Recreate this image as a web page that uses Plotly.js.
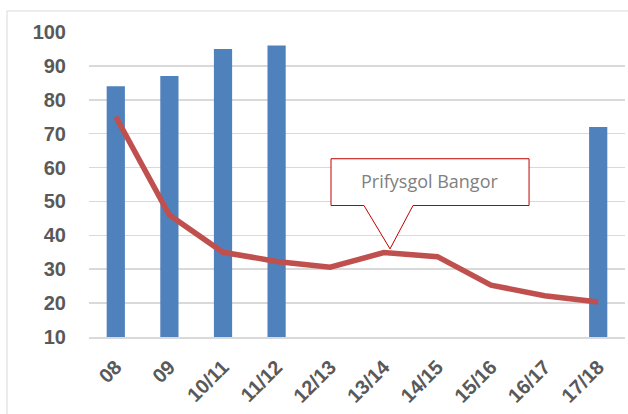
<!DOCTYPE html>
<html>
<head>
<meta charset="utf-8">
<script src="https://cdn.plot.ly/plotly-3.0.1.min.js"></script>
<style>html,body{margin:0;padding:0;background:#fff;}#chart{width:628px;height:414px;}</style>
</head>
<body>
<div id="chart"></div>
<script>
var categories = ["08","09","10/11","11/12","12/13","13/14","14/15","15/16","16/17","17/18"];
var barValues = [84, 87, 95, 96, null, null, null, null, null, 72];
var lineValues = [75, 46, 35, 32.3, 30.6, 34.9, 33.7, 25.3, 22.2, 20.3];
var yTickValues = [10,20,30,40,50,60,70,80,90,100];
var calloutText = "Prifysgol Bangor";

var traces = [
  {type:"bar", x:categories, y:barValues, marker:{color:"#4F81BD"}, hoverinfo:"skip"},
  {type:"scatter", mode:"lines", x:categories, y:lineValues, line:{color:"#C0504D", width:5.5}, hoverinfo:"skip"}
];

var grey = "#595959";
var layout = {
  width:628, height:414,
  margin:{l:89, r:3, t:32, b:77},
  paper_bgcolor:"#fff", plot_bgcolor:"#fff",
  showlegend:false,
  bargap:0.66,
  font:{family:"Liberation Sans, Arial, sans-serif", color:grey},
  xaxis:{type:"category", tickangle:-45, showgrid:false, showline:true, linecolor:"#D9D9D9", linewidth:1.5,
         ticks:"", ticklabelstandoff:9,
         tickfont:{size:20, color:grey, family:"Liberation Sans, Arial, sans-serif", weight:"bold"}},
  yaxis:{range:[10,100], tickvals:yTickValues, showgrid:true, gridcolor:"#D9D9D9", gridwidth:1.5,
         zeroline:false, showline:false, ticks:"", ticklabelstandoff:22,
         tickfont:{size:20, color:grey, family:"Liberation Sans, Arial, sans-serif", weight:"bold"}},
  shapes:[
    {type:"rect", xref:"paper", yref:"paper", x0:-0.153, x1:1.2, y0:-0.4, y1:1.069,
     line:{color:"#D9D9D9", width:1}, fillcolor:"rgba(0,0,0,0)", layer:"below"},
    {type:"path", xref:"paper", yref:"y",
     path:"M0.4515,62.6 L0.821,62.6 L0.821,48.8 L0.6045,48.8 L0.5616,36 L0.513,48.8 L0.4515,48.8 Z",
     line:{color:"#C00000", width:1}, fillcolor:"#ffffff", layer:"above"}
  ],
  annotations:[
    {xref:"paper", yref:"y", x:0.636, y:55.9, text:calloutText, showarrow:false,
     font:{size:18, color:"#7F7F7F", family:"Open Sans, sans-serif"}}
  ]
};
Plotly.newPlot("chart", traces, layout, {staticPlot:true, displayModeBar:false});
</script>
</body>
</html>
